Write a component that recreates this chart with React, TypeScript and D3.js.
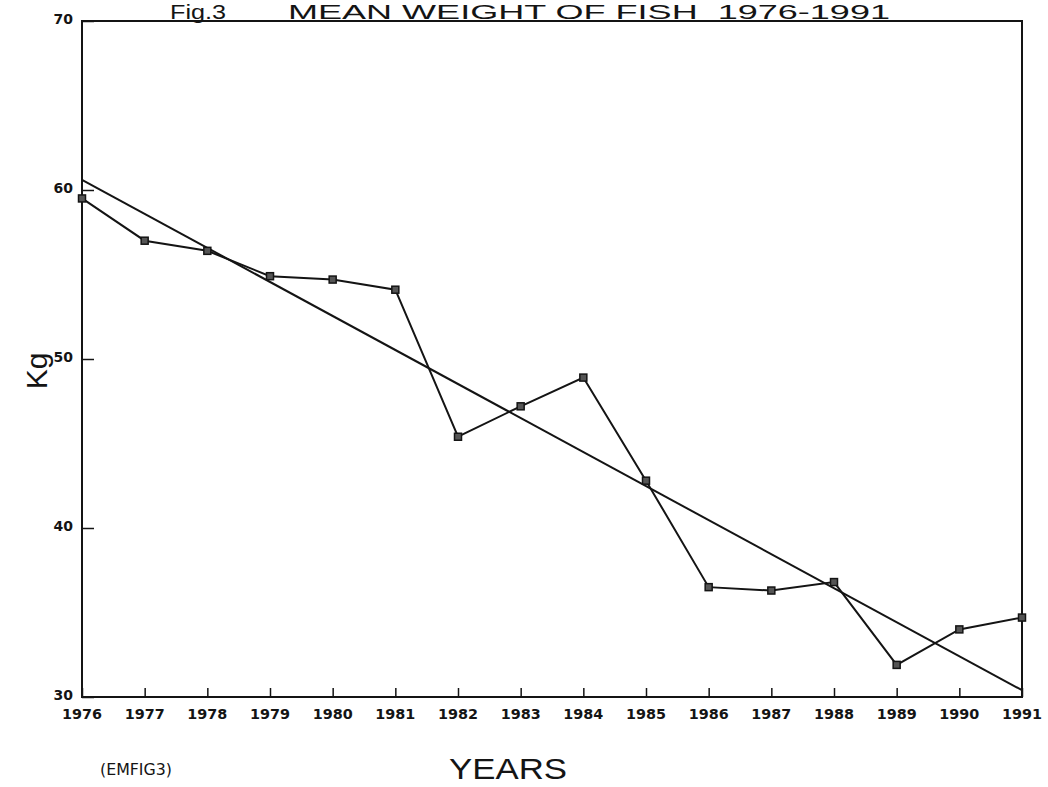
import * as d3 from 'd3';
import React, { useRef, useEffect } from 'react';

// data
const years = [1976, 1977, 1978, 1979, 1980, 1981, 1982, 1983, 1984, 1985, 1986, 1987, 1988, 1989, 1990, 1991];
const meanWeight = [59.5, 57.0, 56.4, 54.9, 54.7, 54.1, 45.4, 47.2, 48.9, 42.8, 36.5, 36.3, 36.8, 31.9, 34.0, 34.7];
const trendYears = [1976, 1991];
const trendValues = [60.6, 30.4];
const yTicks = [30, 40, 50, 60, 70];

const W = 1048, H = 787;

function App() {
    const ref = useRef<SVGSVGElement>(null);

    useEffect(() => {
        const svg = d3.select(ref.current);
        svg.selectAll('*').remove();

        const margin = { top: 21, right: 26, bottom: 90, left: 82 };
        const x = d3.scaleLinear().domain([1976, 1991]).range([margin.left, W - margin.right]);
        const y = d3.scaleLinear().domain([30, 70]).range([H - margin.bottom, margin.top]);
        const ink = '#141414';
        const tickFont = 'DejaVu Sans';

        // frame
        svg.append('rect')
            .attr('x', x(1976)).attr('y', y(70))
            .attr('width', x(1991) - x(1976)).attr('height', y(30) - y(70))
            .attr('fill', 'none').attr('stroke', ink).attr('stroke-width', 2);

        // x axis, ticks pointing inward
        const xAxis = d3.axisTop(x).tickValues(years).tickSize(9).tickFormat(() => '');
        const gx = svg.append('g').attr('transform', `translate(0,${y(30)})`).call(xAxis);
        gx.select('.domain').remove();
        gx.selectAll('line').attr('stroke', ink).attr('stroke-width', 1.5);
        svg.append('g').selectAll('text').data(years).enter().append('text')
            .attr('x', d => x(d)).attr('y', y(30) + 22)
            .attr('text-anchor', 'middle')
            .style('font-family', tickFont).style('font-weight', 'bold').style('font-size', '14px')
            .attr('textLength', 40).attr('lengthAdjust', 'spacingAndGlyphs')
            .attr('fill', ink)
            .text(d => d);

        // y axis
        const yAxis = d3.axisRight(y).tickValues(yTicks).tickSize(12).tickFormat(() => '');
        const gy = svg.append('g').attr('transform', `translate(${x(1976)},0)`).call(yAxis);
        gy.select('.domain').remove();
        gy.selectAll('line').attr('stroke', ink).attr('stroke-width', 1.5);
        svg.append('g').selectAll('text').data(yTicks).enter().append('text')
            .attr('x', x(1976) - 9).attr('y', d => y(d) + 3)
            .attr('text-anchor', 'end')
            .style('font-family', tickFont).style('font-weight', 'bold').style('font-size', '14px')
            .attr('fill', ink)
            .text(d => d);

        // trend line
        const line = d3.line<[number, number]>().x(d => x(d[0])).y(d => y(d[1]));
        svg.append('path')
            .datum(trendYears.map((t, i) => [t, trendValues[i]] as [number, number]))
            .attr('d', line)
            .attr('fill', 'none').attr('stroke', ink).attr('stroke-width', 2);

        // mean weight series
        const pts = years.map((t, i) => [t, meanWeight[i]] as [number, number]);
        svg.append('path')
            .datum(pts)
            .attr('d', line)
            .attr('fill', 'none').attr('stroke', ink).attr('stroke-width', 2);
        svg.append('g').selectAll('rect').data(pts).enter().append('rect')
            .attr('x', d => x(d[0]) - 3.5).attr('y', d => y(d[1]) - 3.5)
            .attr('width', 7).attr('height', 7)
            .attr('fill', '#555').attr('stroke', ink).attr('stroke-width', 1.5);

        // titles
        const sans = 'Liberation Sans, Arial, sans-serif';
        svg.append('text').attr('x', 170).attr('y', 19)
            .style('font-family', sans).style('font-size', '21px').attr('fill', ink)
            .attr('textLength', 56).attr('lengthAdjust', 'spacingAndGlyphs')
            .text('Fig.3');
        svg.append('text').attr('x', 288).attr('y', 19)
            .style('font-family', sans).style('font-size', '21px').attr('fill', ink)
            .attr('textLength', 602).attr('lengthAdjust', 'spacingAndGlyphs')
            .text('MEAN WEIGHT OF FISH\u00a0\u00a01976-1991');
        svg.append('text')
            .attr('transform', `translate(47,${(y(30) + y(70)) / 2 + 12}) rotate(-90)`)
            .attr('text-anchor', 'middle')
            .style('font-family', sans).style('font-size', '30px').attr('fill', ink)
            .text('Kg');
        svg.append('text').attr('x', 508).attr('y', 779)
            .attr('text-anchor', 'middle')
            .style('font-family', sans).style('font-size', '30px').attr('fill', ink)
            .attr('textLength', 118).attr('lengthAdjust', 'spacingAndGlyphs')
            .text('YEARS');
        svg.append('text').attr('x', 136).attr('y', 775)
            .attr('text-anchor', 'middle')
            .style('font-family', 'DejaVu Sans').style('font-size', '16px').attr('fill', ink)
            .attr('textLength', 72).attr('lengthAdjust', 'spacingAndGlyphs')
            .text('(EMFIG3)');
    }, []);

    return (
        <svg ref={ref} width={W} height={H}
            style={{ position: 'absolute', left: 0, top: 0, background: '#fff' }} />
    );
}

export default App;
